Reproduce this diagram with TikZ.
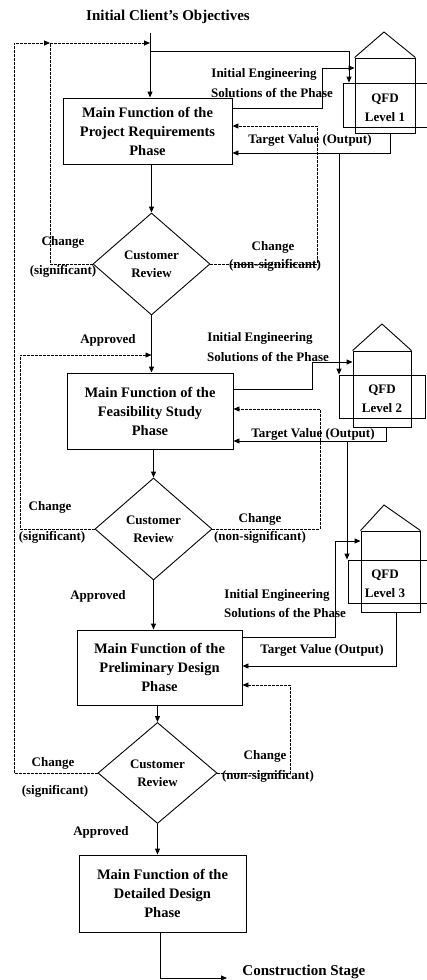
\documentclass[tikz,border=0pt]{standalone}
\usepackage{fontspec}
\setmainfont{Liberation Serif}
\usetikzlibrary{shapes.geometric,arrows.meta}
\begin{document}
\begin{tikzpicture}[x=1pt,y=-1pt,
  line width=0.9pt,
  phasebox/.style={draw,rectangle,inner sep=0pt,align=center,
    font=\bfseries\fontsize{14.5}{19}\selectfont},
  review/.style={draw,diamond,inner sep=0pt,align=center,
    minimum width=117pt,minimum height=102pt,
    font=\bfseries\fontsize{13}{18}\selectfont},
  lbl/.style={inner sep=0pt,align=center,font=\bfseries\fontsize{13}{15}\selectfont},
  biglbl/.style={inner sep=0pt,font=\bfseries\fontsize{15}{18}\selectfont},
  qfdtxt/.style={inner sep=0pt,align=center,font=\bfseries\fontsize{13}{19}\selectfont},
  house/.style={draw,rectangle,inner sep=0pt},
  arr/.style={-{Triangle[length=6pt,width=5pt]}},
  dsh/.style={dash pattern=on 2.5pt off 1.5pt,line width=0.8pt}]
\clip (0,0) rectangle (427,980);
\fill[white] (0,0) rectangle (427,980);

% ---------- phase boxes ----------
\node[phasebox,minimum width=169pt,minimum height=66pt] (b1) at (147.5,131)
  {Main Function of the\\Project Requirements\\Phase};
\node[phasebox,minimum width=166pt,minimum height=76pt] (b2) at (150,411)
  {Main Function of the\\Feasibility Study\\Phase};
\node[phasebox,minimum width=165pt,minimum height=75pt] (b3) at (159.5,667.5)
  {Main Function of the\\Preliminary Design\\Phase};
\node[phasebox,minimum width=167pt,minimum height=77pt] (b4) at (162.5,893.5)
  {Main Function of the\\Detailed Design\\Phase};

% ---------- customer reviews ----------
\node[review] (d1) at (151.5,264) {Customer\\Review};
\node[review] (d2) at (153.5,529) {Customer\\Review};
\node[review,minimum width=119pt,minimum height=101pt] (d3) at (157.5,773) {Customer\\Review};

% ---------- QFD houses ----------
\node[house,minimum width=60pt,minimum height=75pt] (h1) at (385,95.5) {};
\draw (h1.north west) -- (384,32) -- (h1.north east);
\node[house,minimum width=97pt,minimum height=44pt] (r1) at (391.5,105) {};
\node[qfdtxt] (q1) at (385,107.5) {QFD\\Level 1};

\node[house,minimum width=58pt,minimum height=76pt] (h2) at (382,389) {};
\draw (h2.north west) -- (382,324) -- (h2.north east);
\node[house,minimum width=86pt,minimum height=43pt] (r2) at (382,396.5) {};
\node[qfdtxt] (q2) at (382,399) {QFD\\Level 2};

\node[house,minimum width=59pt,minimum height=81pt] (h3) at (390.5,571.5) {};
\draw (h3.north west) -- (384,505) -- (h3.north east);
\node[house,minimum width=92pt,minimum height=43pt] (r3) at (394,581.5) {};
\node[qfdtxt] (q3) at (385,583.5) {QFD\\Level 3};

% ---------- texts ----------
\node[biglbl] (obj) at (168,17) {Initial Client's Objectives};
\node[biglbl,anchor=west] (cs) at (242,972) {Construction Stage};

\node[lbl] at (264,74) {Initial Engineering};
\node[lbl] at (272,93) {Solutions of the Phase};
\node[lbl] at (310,140) {Target Value (Output)};
\node[lbl] at (63,242) {Change};
\node[lbl] at (63,271) {(significant)};
\node[lbl] at (273,247) {Change};
\node[lbl] at (275,265) {(non-significant)};
\node[lbl] at (108,340) {Approved};

\node[lbl] at (260,338) {Initial Engineering};
\node[lbl] at (268,357) {Solutions of the Phase};
\node[lbl] at (313,434) {Target Value (Output)};
\node[lbl] at (50,507) {Change};
\node[lbl] at (52,537) {(significant)};
\node[lbl] at (260,519) {Change};
\node[lbl] at (260,537) {(non-significant)};
\node[lbl] at (98,596) {Approved};

\node[lbl] at (277,595) {Initial Engineering};
\node[lbl] at (285,613) {Solutions of the Phase};
\node[lbl] at (322,650) {Target Value (Output)};
\node[lbl] at (53,763) {Change};
\node[lbl] at (55,791) {(significant)};
\node[lbl] at (265,756) {Change};
\node[lbl] at (268,776) {(non-significant)};
\node[lbl] at (101,832) {Approved};

% ---------- bend points ----------
\coordinate (c0) at (150,33);
\coordinate (c1) at (150,51);
\coordinate (k1) at (349,51);
\coordinate (e1) at (322,68);
\coordinate (t1) at (390,153);
\coordinate (v1) at (339,153);
\coordinate (n1) at (317,126);
\coordinate (s1) at (50,43);

\coordinate (e2) at (312,362);
\coordinate (t2) at (386,441);
\coordinate (v2) at (347,441);
\coordinate (n2) at (320,409);
\coordinate (s2) at (20,355);

\coordinate (e3) at (335,541);
\coordinate (t3) at (396,666);
\coordinate (n3) at (290,685);
\coordinate (s3) at (14,43);

\coordinate (o0) at (160,978);
\coordinate (o1) at (227,978);

% ---------- main flow ----------
\draw[arr] (c0) -- (c0 |- b1.north);
\draw[arr] (d1.north |- b1.south) -- (d1.north);
\draw[arr] (d1.south) -- (d1.south |- b2.north);
\draw[arr] (d2.north |- b2.south) -- (d2.north);
\draw[arr] (d2.south) -- (d2.south |- b3.north);
\draw[arr] (d3.north |- b3.south) -- (d3.north);
\draw[arr] (d3.south) -- (d3.south |- b4.north);
\draw[arr] (o0 |- b4.south) -- (o0) -- (o1);

% ---------- QFD links ----------
\draw[arr] (c1) -- (k1) -- (k1 |- r1.north);
\draw[arr] (b1.east |- 0,108) -| (e1) -- (h1.west |- e1);
\draw[arr] (h1.south -| t1) |- (b1.east |- t1);
\draw[arr] (v1) -- (v1 |- r2.north);

\draw[arr] (b2.east |- 0,389) -| (e2) -- (h2.west |- e2);
\draw[arr] (h2.south -| t2) |- (b2.east |- t2);
\draw[arr] (v2) -- (v2 |- r3.north);

\draw[arr] (b3.east |- 0,637) -| (e3) -- (h3.west |- e3);
\draw[arr] (h3.south -| t3) |- (b3.east |- t3);

% ---------- change loops ----------
\draw[dsh,arr] (d1.east) -| (n1) -- (b1.east |- n1);
\draw[dsh,arr] (d1.west) -| (s1) -- (c0 |- s1);
\draw[dsh,arr] (d2.east) -| (n2) -- (b2.east |- n2);
\draw[dsh,arr] (d2.west) -| (s2) -- (d1.south |- s2);
\draw[dsh,arr] (d3.east) -| (d3.east -| n3) -- (n3) -- (b3.east |- n3);
\draw[dsh,arr] (d3.west) -| (s3) -- (s1);
\end{tikzpicture}
\end{document}
